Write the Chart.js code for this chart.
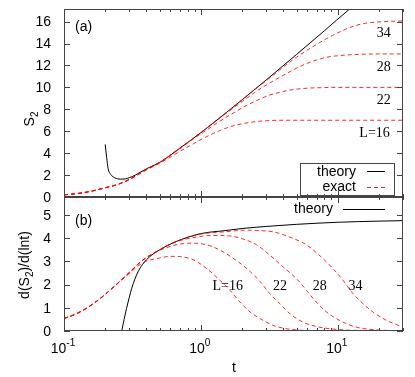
<!DOCTYPE html>
<html>
<head>
<meta charset="utf-8">
<script src="https://cdn.jsdelivr.net/npm/chart.js@4.4.1/dist/chart.umd.min.js"></script>
<style>
    body { margin: 0; background: #fff; }
    #wrap { position: relative; width: 415px; height: 377px; }
    canvas { position: absolute; left: 0; top: 0; }
</style>
</head>
<body>
<div id="wrap">
    <canvas id="topChart" width="415" height="377"></canvas>
    <canvas id="bottomChart" width="415" height="377"></canvas>
</div>
<script>
// ---- panel (a): S2 vs t ----
const tTheoryTop = [0.2, 0.205, 0.21, 0.22, 0.235, 0.26, 0.28, 0.3, 0.33, 0.36, 0.4, 0.5, 0.7, 1, 1.5, 2, 3, 5, 8, 12, 14];
const s2Theory = [4.8, 3.6, 2.6, 2.05, 1.75, 1.63, 1.65, 1.76, 1.98, 2.25, 2.57, 3.15, 4.44, 5.87, 7.6, 8.86, 10.67, 13.0, 15.17, 17.06, 17.7];

const tTop16 = [0.1, 0.12, 0.15, 0.2, 0.25, 0.3, 0.4, 0.5, 0.7, 0.88, 1.1, 1.37, 1.63, 2, 2.5, 3, 4, 6, 10, 30];
const s2L16 = [0.2, 0.29, 0.47, 0.84, 1.17, 1.6, 2.48, 3.08, 4.15, 4.85, 5.5, 6.05, 6.4, 6.68, 6.87, 6.96, 7.0, 7.0, 7.0, 7.0];
const tTop22 = [0.1, 0.12, 0.15, 0.2, 0.25, 0.3, 0.4, 0.5, 0.7, 0.88, 1.1, 1.37, 1.72, 2.16, 2.72, 3.18, 3.78, 4.47, 5.58, 7.3, 10, 30];
const s2L22 = [0.2, 0.29, 0.47, 0.84, 1.17, 1.6, 2.5, 3.15, 4.4, 5.3, 6.1, 6.9, 7.65, 8.35, 8.95, 9.3, 9.55, 9.75, 9.9, 9.97, 10.0, 10.0];
const tTop28 = [0.1, 0.12, 0.15, 0.2, 0.25, 0.3, 0.4, 0.5, 0.7, 1, 1.23, 1.63, 2, 2.55, 3.18, 4, 5, 6, 7, 8.3, 10.3, 13.6, 20, 30];
const s2L28 = [0.2, 0.29, 0.47, 0.84, 1.17, 1.6, 2.5, 3.15, 4.44, 5.87, 6.75, 7.9, 8.7, 9.65, 10.4, 11.1, 11.75, 12.2, 12.5, 12.75, 12.9, 13.0, 13.05, 13.05];
const tTop34 = [0.1, 0.12, 0.15, 0.2, 0.25, 0.3, 0.4, 0.5, 0.7, 1, 1.5, 2, 2.5, 3, 4, 5, 6, 7.3, 9.2, 11.4, 13.6, 16, 20, 25, 30];
const s2L34 = [0.2, 0.29, 0.47, 0.84, 1.17, 1.6, 2.5, 3.15, 4.44, 5.87, 7.6, 8.86, 9.85, 10.6, 11.85, 12.75, 13.4, 14.05, 14.75, 15.3, 15.65, 15.85, 15.97, 16.03, 16.06];

// ---- panel (b): d(S2)/d(ln t) vs t ----
const tTheoryBottom = [0.264, 0.275, 0.286, 0.3, 0.312, 0.348, 0.4, 0.5, 0.66, 1, 1.5, 2, 3, 5, 10, 20, 30];
const dTheory = [0, 0.5, 0.96, 1.45, 1.83, 2.56, 3.07, 3.5, 3.86, 4.2, 4.33, 4.42, 4.51, 4.6, 4.69, 4.74, 4.76];

const tBot16 = [0.1, 0.124, 0.164, 0.217, 0.286, 0.379, 0.5, 0.6, 0.7, 0.88, 1.1, 1.37, 1.63, 1.93, 2.29, 2.72, 3.38, 4.2, 5.5, 8, 30];
const dL16 = [0.54, 0.75, 1.18, 1.76, 2.38, 2.95, 3.15, 3.22, 3.21, 3.07, 2.7, 2.2, 1.76, 1.25, 0.82, 0.53, 0.24, 0.1, 0.03, 0.01, 0];
const tBot22 = [0.1, 0.124, 0.164, 0.217, 0.286, 0.379, 0.5, 0.6, 0.7, 0.88, 1.1, 1.37, 1.72, 2.16, 2.72, 3.18, 3.78, 4.47, 5.58, 7.3, 9.8, 15, 30];
const dL22 = [0.54, 0.75, 1.18, 1.76, 2.41, 3.07, 3.48, 3.65, 3.75, 3.79, 3.72, 3.5, 3.14, 2.7, 2.12, 1.62, 1.18, 0.75, 0.38, 0.17, 0.07, 0.02, 0];
const tBot28 = [0.1, 0.124, 0.164, 0.217, 0.286, 0.379, 0.5, 0.66, 1, 1.23, 1.63, 2.0, 2.55, 3.18, 3.98, 4.97, 5.9, 6.97, 8.3, 10.3, 13.6, 19.1, 30];
const dL28 = [0.54, 0.75, 1.18, 1.76, 2.41, 3.07, 3.5, 3.85, 4.08, 4.12, 4.1, 3.98, 3.72, 3.28, 2.77, 2.27, 1.76, 1.25, 0.82, 0.46, 0.17, 0.05, 0.01];
const tBot34 = [0.1, 0.124, 0.164, 0.217, 0.286, 0.379, 0.5, 0.66, 1, 1.5, 2.16, 2.7, 3.38, 4.7, 5.9, 7.3, 9.2, 10.9, 12.9, 15.3, 18.1, 22.7, 30];
const dL34 = [0.54, 0.75, 1.18, 1.76, 2.41, 3.07, 3.5, 3.86, 4.18, 4.28, 4.35, 4.33, 4.28, 4.0, 3.72, 3.28, 2.7, 2.2, 1.62, 1.18, 0.82, 0.46, 0.17];

// ---- ticks ----
const xMajorTicks = [0.1, 1, 10];
const xMajorExp = ['-1', '0', '1'];
const xMinorTicks = [0.2, 0.3, 0.4, 0.5, 0.6, 0.7, 0.8, 0.9, 2, 3, 4, 5, 6, 7, 8, 9, 20, 30];
const yTicksTop = [0, 2, 4, 6, 8, 10, 12, 14, 16];
const yTicksBottom = [0, 1, 2, 3, 4, 5];

// curve labels in data coordinates
const topLabels = [
    {t: 21.7, v: 14.6, text: '34'},
    {t: 21.7, v: 11.5, text: '28'},
    {t: 21.7, v: 8.49, text: '22'},
    {t: 18.6, v: 5.47, text: 'L=16'}
];
const bottomLabels = [
    {t: 1.57, v: 1.76, text: 'L=16'},
    {t: 3.78, v: 1.76, text: '22'},
    {t: 7.4, v: 1.76, text: '28'},
    {t: 13.5, v: 1.76, text: '34'}
];

const SANS = '"Liberation Sans", Arial, sans-serif';
const SERIF = '"Liberation Serif", "Times New Roman", serif';
const RED = 'rgba(255,0,0,0.85)';

function points(ts, vs) {
    return ts.map((t, i) => ({x: t, y: vs[i]}));
}

function theorySet(ts, vs) {
    return {data: points(ts, vs), borderColor: '#000', borderWidth: 1, pointRadius: 0, cubicInterpolationMode: 'monotone'};
}

function exactSet(ts, vs) {
    return {data: points(ts, vs), borderColor: RED, borderWidth: 1, borderDash: [4, 3], pointRadius: 0, cubicInterpolationMode: 'monotone'};
}

// frame with inward ticks, tick labels and text, gnuplot style
function framePlugin(cfg) {
    return {
        id: 'frame' + cfg.name,
        afterDraw(chart) {
            const ctx = chart.ctx;
            const a = chart.chartArea;
            const xs = chart.scales.x, ys = chart.scales.y;
            ctx.save();
            ctx.strokeStyle = '#444';
            ctx.lineWidth = 1;
            ctx.strokeRect(a.left + 0.5, a.top + 0.5, a.right - a.left - 1, a.bottom - a.top - 1);

            ctx.beginPath();
            xMajorTicks.concat(xMinorTicks).forEach((v) => {
                const len = xMajorTicks.includes(v) ? 6 : 3;
                const px = Math.round(xs.getPixelForValue(v)) + 0.5;
                ctx.moveTo(px, a.bottom); ctx.lineTo(px, a.bottom - len);
                ctx.moveTo(px, a.top); ctx.lineTo(px, a.top + len);
            });
            cfg.yTicks.forEach((v) => {
                const py = Math.round(ys.getPixelForValue(v)) + 0.5;
                ctx.moveTo(a.left, py); ctx.lineTo(a.left + 6, py);
                ctx.moveTo(a.right, py); ctx.lineTo(a.right - 6, py);
            });
            ctx.stroke();

            ctx.fillStyle = '#000';
            ctx.font = '14px ' + SANS;
            ctx.textAlign = 'right';
            ctx.textBaseline = 'middle';
            cfg.yTicks.forEach((v) => {
                ctx.fillText(String(v), a.left - 13, ys.getPixelForValue(v) + 1);
            });

            if (cfg.xLabels) {
                ctx.textBaseline = 'alphabetic';
                xMajorTicks.forEach((v, i) => {
                    const px = xs.getPixelForValue(v);
                    ctx.font = '14px ' + SANS;
                    ctx.textAlign = 'left';
                    const w = ctx.measureText('10').width;
                    ctx.font = '10px ' + SANS;
                    const ws = ctx.measureText(xMajorExp[i]).width;
                    const x0 = px - (w + ws) / 2 - 1;
                    ctx.font = '14px ' + SANS;
                    ctx.fillText('10', x0, 353);
                    ctx.font = '10px ' + SANS;
                    ctx.fillText(xMajorExp[i], x0 + w, 346);
                });
                ctx.font = '14px ' + SANS;
                ctx.textAlign = 'center';
                ctx.fillText('t', 234, 372);
            }

            // panel tag
            ctx.font = '14px ' + SANS;
            ctx.textAlign = 'left';
            ctx.textBaseline = 'alphabetic';
            ctx.fillText(cfg.tag, 75, cfg.tagY);

            // curve labels
            ctx.font = '14px ' + SERIF;
            ctx.textAlign = 'center';
            cfg.curveLabels.forEach((l) => {
                ctx.fillText(l.text, xs.getPixelForValue(l.t), ys.getPixelForValue(l.v));
            });

            cfg.extra(ctx, a);
            ctx.restore();
        }
    };
}

// rotated label with a subscript part: parts = [[text, isSub], ...]
function rotatedLabel(ctx, parts, cx, baseX) {
    ctx.save();
    ctx.translate(baseX, cx);
    ctx.rotate(-Math.PI / 2);
    ctx.textAlign = 'left';
    ctx.textBaseline = 'alphabetic';
    let total = 0;
    parts.forEach(([s, sub]) => {
        ctx.font = (sub ? '10px ' : '14px ') + SANS;
        total += ctx.measureText(s).width;
    });
    let x = -total / 2;
    parts.forEach(([s, sub]) => {
        ctx.font = (sub ? '10px ' : '14px ') + SANS;
        ctx.fillText(s, x, sub ? 4 : 0);
        x += ctx.measureText(s).width;
    });
    ctx.restore();
}

function baseOptions(padding, yMax) {
    return {
        responsive: false,
        animation: false,
        devicePixelRatio: 1,
        layout: {padding: padding},
        plugins: {legend: {display: false}, tooltip: {enabled: false}},
        scales: {
            x: {type: 'logarithmic', min: 0.1, max: 30, display: false},
            y: {type: 'linear', min: 0, max: yMax, display: false}
        }
    };
}

new Chart(document.getElementById('topChart').getContext('2d'), {
    type: 'line',
    data: {
        datasets: [
            exactSet(tTop16, s2L16),
            exactSet(tTop22, s2L22),
            exactSet(tTop28, s2L28),
            exactSet(tTop34, s2L34),
            theorySet(tTheoryTop, s2Theory)
        ]
    },
    options: baseOptions({left: 64, right: 12, top: 9, bottom: 180}, 17.15),
    plugins: [framePlugin({
        name: 'Top',
        yTicks: yTicksTop,
        xLabels: false,
        tag: '(a)',
        tagY: 31,
        curveLabels: topLabels,
        extra(ctx) {
            rotatedLabel(ctx, [['S', false], ['2', true]], 119, 34);
            // legend box
            ctx.strokeStyle = '#444';
            ctx.strokeRect(300.5, 163.5, 94, 32);
            ctx.font = '14px ' + SANS;
            ctx.textAlign = 'right';
            ctx.fillStyle = '#000';
            ctx.fillText('theory', 356, 176);
            ctx.fillText('exact', 356, 191);
            ctx.setLineDash([]);
            ctx.strokeStyle = '#000';
            ctx.beginPath();
            ctx.moveTo(367, 171.5); ctx.lineTo(385, 171.5);
            ctx.stroke();
            ctx.strokeStyle = RED;
            ctx.setLineDash([4, 3]);
            ctx.beginPath();
            ctx.moveTo(367, 187.5); ctx.lineTo(385, 187.5);
            ctx.stroke();
        }
    })]
});

new Chart(document.getElementById('bottomChart').getContext('2d'), {
    type: 'line',
    data: {
        datasets: [
            exactSet(tBot16, dL16),
            exactSet(tBot22, dL22),
            exactSet(tBot28, dL28),
            exactSet(tBot34, dL34),
            theorySet(tTheoryBottom, dTheory)
        ]
    },
    options: baseOptions({left: 64, right: 12, top: 197, bottom: 46}, 5.78),
    plugins: [framePlugin({
        name: 'Bottom',
        yTicks: yTicksBottom,
        xLabels: true,
        tag: '(b)',
        tagY: 225,
        curveLabels: bottomLabels,
        extra(ctx) {
            rotatedLabel(ctx, [['d(S', false], ['2', true], [')/d(lnt)', false]], 265, 29);
            ctx.font = '14px ' + SANS;
            ctx.textAlign = 'right';
            ctx.fillStyle = '#000';
            ctx.fillText('theory', 333, 213);
            ctx.strokeStyle = '#000';
            ctx.beginPath();
            ctx.moveTo(343, 209.5); ctx.lineTo(385, 209.5);
            ctx.stroke();
        }
    })]
});
</script>
</body>
</html>
